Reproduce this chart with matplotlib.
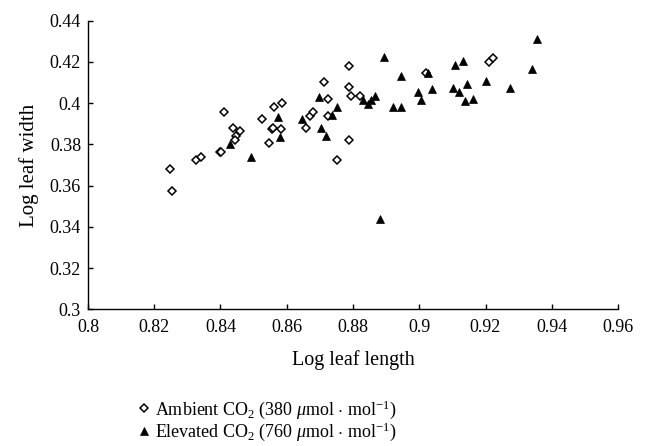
import matplotlib
matplotlib.use("Agg")
import matplotlib.pyplot as plt
from matplotlib.lines import Line2D

plt.rcParams['font.family'] = ['Liberation Serif', 'DejaVu Serif']
plt.rcParams['mathtext.fontset'] = 'custom'
plt.rcParams['mathtext.rm'] = 'Liberation Serif'
plt.rcParams['mathtext.it'] = 'Liberation Serif:italic'
plt.rcParams['mathtext.bf'] = 'Liberation Serif:bold'

ambient_x = [0.8248, 0.8255, 0.8325, 0.8341, 0.8398, 0.8402, 0.8410, 0.8437, 0.8459,
             0.8447, 0.8445, 0.8524, 0.8556, 0.8560, 0.8583, 0.8547, 0.8561, 0.8587,
             0.8658, 0.8671, 0.8678, 0.8711, 0.8725, 0.8724, 0.8788, 0.8788, 0.8795,
             0.8788, 0.8752, 0.8821, 0.9019, 0.9210, 0.9223]
ambient_y = [0.3680, 0.3573, 0.3724, 0.3738, 0.3761, 0.3762, 0.3958, 0.3880, 0.3864,
             0.3842, 0.3819, 0.3921, 0.3877, 0.3879, 0.3877, 0.3805, 0.3979, 0.3999,
             0.3879, 0.3937, 0.3958, 0.4103, 0.4018, 0.3937, 0.4179, 0.4076, 0.4034,
             0.3819, 0.3724, 0.4034, 0.4147, 0.4200, 0.4217]

elevated_x = [0.8429, 0.8492, 0.8575, 0.8581, 0.8645, 0.8698, 0.8704, 0.8718, 0.8737,
              0.8752, 0.8829, 0.8844, 0.8854, 0.8866, 0.8895, 0.8922, 0.8946, 0.8946,
              0.9025, 0.8996, 0.9006, 0.9038, 0.9109, 0.9102, 0.9119, 0.9132, 0.9143,
              0.9139, 0.9162, 0.9202, 0.9275, 0.9339, 0.9355, 0.8880]
elevated_y = [0.3800, 0.3738, 0.3934, 0.3837, 0.3922, 0.4032, 0.3879, 0.3840, 0.3942,
              0.3979, 0.4015, 0.3994, 0.4015, 0.4034, 0.4222, 0.3979, 0.3979, 0.4131,
              0.4147, 0.4055, 0.4015, 0.4069, 0.4184, 0.4074, 0.4055, 0.4204, 0.4091,
              0.4011, 0.4021, 0.4107, 0.4074, 0.4165, 0.4310, 0.3440]

x_ticks = [0.8, 0.82, 0.84, 0.86, 0.88, 0.9, 0.92, 0.94, 0.96]
x_ticklabels = ['0.8', '0.82', '0.84', '0.86', '0.88', '0.9', '0.92', '0.94', '0.96']
y_ticks = [0.3, 0.32, 0.34, 0.36, 0.38, 0.4, 0.42, 0.44]
y_ticklabels = ['0.3', '0.32', '0.34', '0.36', '0.38', '0.4', '0.42', '0.44']

fig = plt.figure(figsize=(6.47, 4.46), dpi=100)
ax = fig.add_axes([88/647, 1 - 309.3/446, (618 - 88)/647, (309.3 - 20.7)/446])

ax.plot(ambient_x, ambient_y, linestyle='none', marker='D', markersize=4,
        markerfacecolor='white', markeredgecolor='black', markeredgewidth=1.1)
ax.plot(elevated_x, elevated_y, linestyle='none', marker='^', markersize=5.5,
        markerfacecolor='black', markeredgecolor='black', markeredgewidth=0.5)

ax.set_xlim(0.8, 0.96)
ax.set_ylim(0.3, 0.44)
ax.set_xticks(x_ticks)
ax.set_xticklabels(x_ticklabels)
ax.set_yticks(y_ticks)
ax.set_yticklabels(y_ticklabels)
for s in ['top', 'right']:
    ax.spines[s].set_visible(False)
for s in ['left', 'bottom']:
    ax.spines[s].set_linewidth(1.0)
ax.tick_params(direction='in', length=3.5, width=1.0, labelsize=13)
ax.tick_params(axis='y', pad=5)
ax.tick_params(axis='x', pad=7)
ax.set_xlabel('Log leaf length', fontsize=14.5, labelpad=10)
ax.set_ylabel('Log leaf width', fontsize=15, labelpad=8)

handles = [
    Line2D([], [], linestyle='none', marker='D', markersize=4, markerfacecolor='white',
           markeredgecolor='black', markeredgewidth=1.1),
    Line2D([], [], linestyle='none', marker='^', markersize=5.5, markerfacecolor='black',
           markeredgecolor='black', markeredgewidth=0.5),
]
labels = [r'Ambient CO$_2$ (380 $\mathit{\mu}$mol $\cdot$ mol$^{-1}$)',
          r'Elevated CO$_2$ (760 $\mathit{\mu}$mol $\cdot$ mol$^{-1}$)']
leg = fig.legend(handles, labels, loc='upper left',
                 bbox_to_anchor=(128/647, 1 - 389/446),
                 bbox_transform=fig.transFigure, frameon=False, fontsize=13,
                 handlelength=0.8, handletextpad=0.2, labelspacing=0.02, borderpad=0)

fig.savefig('out.png', dpi=100)
